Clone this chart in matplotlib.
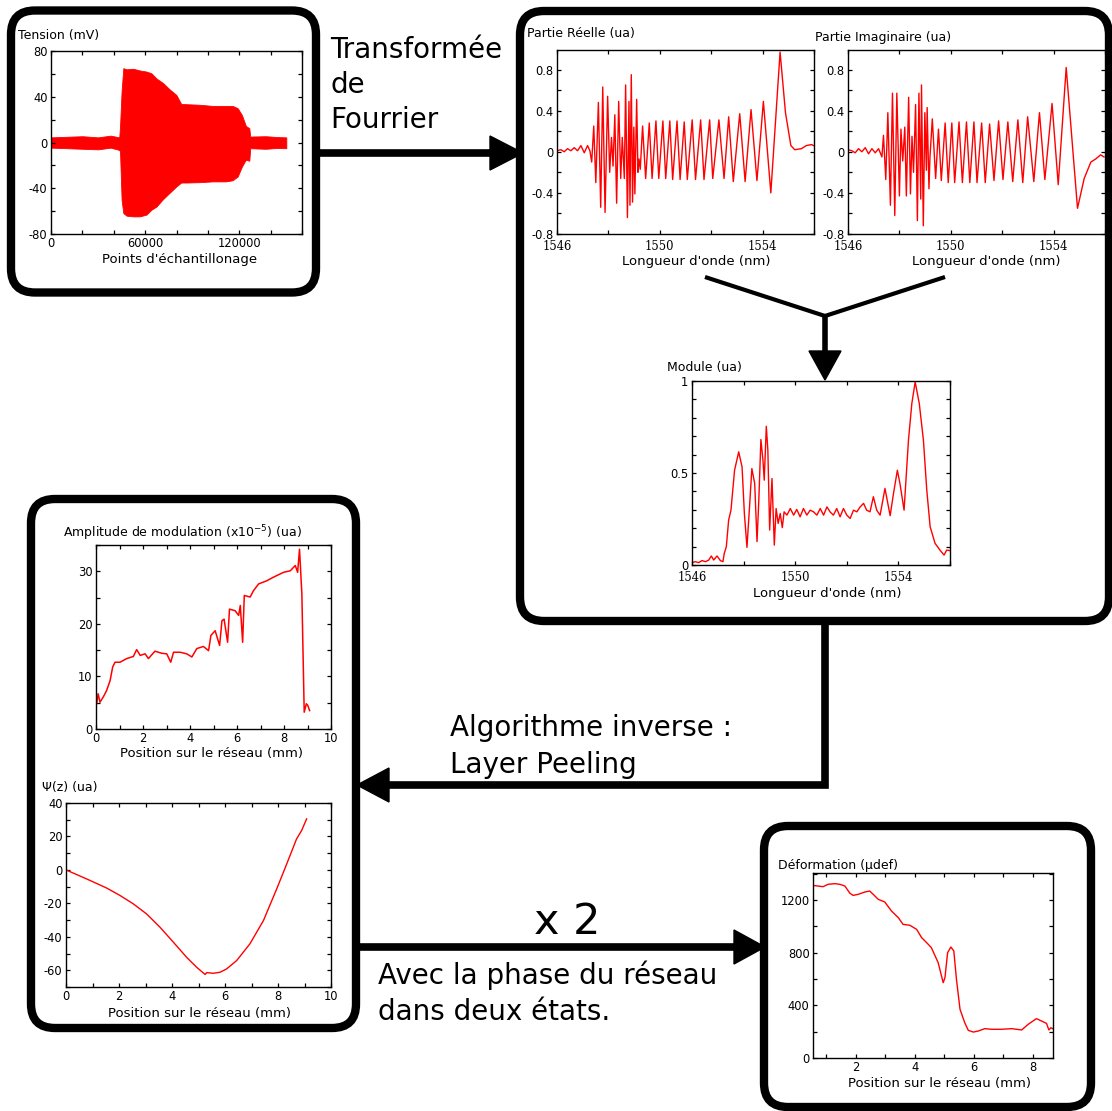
import matplotlib
matplotlib.use('Agg')
import matplotlib.pyplot as plt
from matplotlib.patches import FancyBboxPatch, Polygon
from matplotlib.ticker import MultipleLocator, FixedLocator, FuncFormatter

plt.rcParams['font.family'] = 'DejaVu Sans'
plt.rcParams['axes.unicode_minus'] = False

# --- Tension (mV) vs sample index : envelope of the recorded signal
tension_x = [0, 10000, 20000, 30000, 38000, 43500, 44000, 45000, 46100, 48200, 52400,
             56600, 60900, 64000, 67200, 71400, 75600, 79900, 83000, 86200, 94700,
             103100, 111600, 115800, 119000, 121700, 124200, 126400, 127000, 136900,
             144000, 150000]
tension_upper = [4.5, 5.0, 5.5, 4.5, 6.0, 4.5, 14, 45, 65, 64, 64.5,
                 63, 62, 60.5, 56, 52, 46.5, 41.6, 33.7, 33.5, 33,
                 32, 32, 32, 30, 24, 14.5, 12.5, 5.2, 5.5,
                 4.8, 4.5]
tension_lower = [-4.5, -5.0, -5.5, -6.0, -4.5, -6.5, -8, -50, -61.7, -64, -64.6,
                 -64.6, -63, -58.8, -56, -49.5, -44, -38.4, -35, -35, -34.7,
                 -34, -34, -33, -29.7, -21, -15, -16, -5, -5.5,
                 -4.8, -5]

# --- Partie reelle
reel_wl = [1546.00, 1546.15, 1546.28, 1546.41, 1546.54, 1546.67, 1546.80, 1546.93, 1547.06, 1547.19,
           1547.28, 1547.35, 1547.43, 1547.51, 1547.61, 1547.70, 1547.78, 1547.87, 1547.97, 1548.05,
           1548.12, 1548.18, 1548.25, 1548.32, 1548.40, 1548.48, 1548.54, 1548.62, 1548.67, 1548.74,
           1548.80, 1548.84, 1548.89, 1548.94, 1548.99, 1549.03, 1549.10, 1549.15, 1549.19, 1549.24,
           1549.33, 1549.45, 1549.59, 1549.70, 1549.85, 1549.96, 1550.12, 1550.23, 1550.39, 1550.50,
           1550.67, 1550.79, 1550.95, 1551.07, 1551.26, 1551.39, 1551.59, 1551.72, 1551.94, 1552.06,
           1552.30, 1552.50, 1552.68, 1552.86, 1553.11, 1553.32, 1553.55, 1553.78, 1554.03, 1554.32,
           1554.68, 1554.89, 1555.10, 1555.25, 1555.51, 1555.70, 1555.90, 1555.99]
reel_val = [0.01, 0.02, 0.00, 0.03, 0.01, 0.04, 0.01, 0.06, -0.01, 0.06,
            0.01, -0.10, 0.25, -0.30, 0.48, -0.54, 0.63, -0.59, 0.54, -0.20,
            0.14, -0.14, 0.36, -0.50, 0.49, -0.26, 0.14, -0.26, 0.65, -0.64,
            0.49, -0.52, 0.75, -0.49, 0.24, -0.41, 0.51, -0.20, -0.07, -0.17,
            0.25, -0.26, 0.28, -0.26, 0.30, -0.26, 0.30, -0.26, 0.30, -0.27,
            0.30, -0.27, 0.29, -0.27, 0.31, -0.27, 0.31, -0.27, 0.31, -0.26,
            0.31, -0.26, 0.34, -0.29, 0.37, -0.29, 0.41, -0.28, 0.49, -0.40,
            0.97, 0.38, 0.06, 0.02, 0.03, 0.06, 0.07, 0.06]

# --- Partie imaginaire
imag_wl = [1546.00, 1546.15, 1546.28, 1546.41, 1546.54, 1546.67, 1546.80, 1546.93, 1547.06, 1547.19,
           1547.32, 1547.38, 1547.47, 1547.55, 1547.65, 1547.73, 1547.82, 1547.90, 1548.00, 1548.06,
           1548.13, 1548.21, 1548.27, 1548.36, 1548.43, 1548.49, 1548.55, 1548.63, 1548.70, 1548.76,
           1548.83, 1548.86, 1548.93, 1548.99, 1549.05, 1549.08, 1549.15, 1549.19, 1549.28, 1549.41,
           1549.52, 1549.63, 1549.78, 1549.90, 1550.04, 1550.15, 1550.32, 1550.45, 1550.61, 1550.74,
           1550.90, 1551.02, 1551.20, 1551.34, 1551.51, 1551.68, 1551.86, 1552.03, 1552.22, 1552.41,
           1552.61, 1552.80, 1552.99, 1553.23, 1553.45, 1553.66, 1553.94, 1554.18, 1554.49, 1554.93,
           1555.19, 1555.45, 1555.64, 1555.83, 1555.96]
imag_val = [0.02, 0.01, -0.01, 0.03, 0.00, 0.04, -0.02, 0.03, -0.01, 0.03,
            -0.05, 0.16, -0.27, 0.38, -0.52, 0.57, -0.62, 0.57, -0.43, 0.22,
            -0.09, 0.24, -0.43, 0.53, -0.41, 0.15, -0.20, 0.46, -0.67, 0.57,
            -0.46, 0.65, -0.72, 0.38, -0.18, 0.43, -0.36, -0.05, 0.32, -0.26,
            0.22, -0.28, 0.28, -0.30, 0.28, -0.30, 0.29, -0.30, 0.29, -0.30,
            0.29, -0.30, 0.28, -0.30, 0.27, -0.28, 0.30, -0.27, 0.29, -0.29,
            0.31, -0.30, 0.34, -0.29, 0.38, -0.27, 0.47, -0.32, 0.82, -0.55,
            -0.26, -0.10, -0.07, -0.03, -0.05]

# --- Module
mod_wl = [1546.00, 1546.13, 1546.26, 1546.39, 1546.52, 1546.65, 1546.75, 1546.84, 1546.97, 1547.10,
          1547.20, 1547.25, 1547.33, 1547.42, 1547.51, 1547.65, 1547.81, 1547.94, 1548.03, 1548.13,
          1548.23, 1548.32, 1548.43, 1548.52, 1548.59, 1548.67, 1548.75, 1548.80, 1548.88, 1548.94,
          1549.01, 1549.10, 1549.19, 1549.26, 1549.34, 1549.42, 1549.50, 1549.57, 1549.68, 1549.81,
          1549.94, 1550.06, 1550.19, 1550.32, 1550.45, 1550.58, 1550.71, 1550.84, 1550.97, 1551.10,
          1551.23, 1551.35, 1551.48, 1551.61, 1551.74, 1551.87, 1552.00, 1552.13, 1552.26, 1552.39,
          1552.52, 1552.65, 1552.77, 1552.90, 1553.03, 1553.16, 1553.29, 1553.48, 1553.68, 1553.81,
          1553.96, 1554.06, 1554.22, 1554.39, 1554.52, 1554.65, 1554.81, 1554.97, 1555.10, 1555.23,
          1555.42, 1555.61, 1555.77, 1555.87, 1556.00]
mod_val = [0.013, 0.018, 0.013, 0.024, 0.018, 0.027, 0.049, 0.027, 0.049, 0.024,
           0.018, 0.063, 0.099, 0.244, 0.298, 0.515, 0.615, 0.533, 0.280, 0.096,
           0.316, 0.524, 0.443, 0.127, 0.353, 0.682, 0.570, 0.461, 0.754, 0.624,
           0.190, 0.470, 0.108, 0.307, 0.226, 0.280, 0.203, 0.289, 0.271, 0.307,
           0.271, 0.302, 0.262, 0.307, 0.271, 0.298, 0.289, 0.271, 0.307, 0.271,
           0.316, 0.289, 0.271, 0.307, 0.262, 0.307, 0.271, 0.253, 0.298, 0.289,
           0.316, 0.335, 0.298, 0.289, 0.371, 0.298, 0.271, 0.416, 0.268, 0.389,
           0.515, 0.443, 0.298, 0.678, 0.877, 0.995, 0.877, 0.678, 0.407, 0.208,
           0.118, 0.081, 0.054, 0.081, 0.078]

# --- Amplitude de modulation (x1e-5)
amp_z = [0.03, 0.09, 0.17, 0.31, 0.45, 0.60, 0.71, 0.81, 1.02, 1.31,
         1.59, 1.73, 1.88, 2.09, 2.23, 2.51, 2.80, 3.01, 3.18, 3.30,
         3.58, 3.86, 4.08, 4.29, 4.57, 4.79, 4.89, 5.07, 5.26, 5.36,
         5.45, 5.60, 5.68, 5.92, 6.07, 6.14, 6.24, 6.31, 6.56, 6.70,
         6.92, 7.27, 7.56, 7.98, 8.27, 8.48, 8.58, 8.66, 8.76, 8.86,
         8.95, 9.01, 9.09]
amp_val = [4.8, 6.7, 5.1, 6.1, 7.3, 9.2, 11.8, 12.7, 12.7, 13.4,
           13.8, 15.1, 14.0, 14.3, 13.4, 14.8, 14.4, 14.3, 12.7, 14.6,
           14.6, 14.3, 13.7, 15.3, 15.7, 14.9, 17.8, 18.7, 15.9, 20.6,
           20.9, 16.5, 22.8, 22.5, 21.6, 23.5, 16.5, 25.4, 25.1, 26.3,
           27.6, 28.2, 28.9, 29.8, 30.1, 31.1, 29.8, 34.2, 25.7, 3.2,
           4.8, 4.5, 3.5]

# --- Psi(z)
psi_z = [0.00, 0.78, 1.53, 2.04, 2.54, 3.04, 3.55, 4.05, 4.55, 4.93,
         5.25, 5.31, 5.56, 5.81, 6.06, 6.44, 6.94, 7.45, 7.95, 8.33,
         8.70, 8.89, 9.08]
psi_val = [0.0, -5.4, -10.8, -15.3, -20.3, -26.3, -34.3, -43.2, -52.2, -58.2,
           -62.5, -61.4, -61.8, -61.2, -59.2, -54.2, -44.2, -30.3, -11.4, 3.6,
           18.5, 23.5, 30.5]

# --- Deformation (microdef)
def_z = [0.55, 0.72, 0.89, 1.06, 1.29, 1.46, 1.63, 1.80, 1.91, 2.08,
         2.31, 2.47, 2.59, 2.76, 2.98, 3.21, 3.44, 3.60, 3.83, 4.06,
         4.23, 4.40, 4.56, 4.79, 4.96, 5.02, 5.11, 5.22, 5.32, 5.41,
         5.53, 5.69, 5.81, 5.98, 6.15, 6.37, 6.60, 6.94, 7.28, 7.62,
         7.84, 8.12, 8.29, 8.46, 8.54, 8.61, 8.67]
def_val = [1311, 1306, 1301, 1319, 1324, 1319, 1306, 1251, 1235, 1243,
           1261, 1268, 1243, 1205, 1185, 1116, 1066, 1015, 1008, 977,
           914, 876, 838, 724, 572, 610, 800, 843, 813, 597,
           370, 268, 210, 197, 205, 223, 218, 218, 223, 213,
           256, 299, 281, 263, 213, 230, 223]

wl_major = [1546, 1550, 1554]
wl_minor = [1548, 1552, 1556]

W, H = 1112, 1111
RED = '#ff0000'


def rect(l, t, r, b):
    return [l / W, 1 - b / H, (r - l) / W, (b - t) / H]


def txt(x, y, s, **kw):
    fig.text(x / W, 1 - y / H, s, **kw)


def style(ax, xmaj, xmin, ymaj, ymin, serif_x=False):
    if serif_x:
        ax.xaxis.set_major_locator(FixedLocator(xmaj))
        ax.xaxis.set_minor_locator(FixedLocator(xmin))
    else:
        ax.xaxis.set_major_locator(MultipleLocator(xmaj))
        ax.xaxis.set_minor_locator(MultipleLocator(xmin))
    ax.yaxis.set_major_locator(MultipleLocator(ymaj))
    ax.yaxis.set_minor_locator(MultipleLocator(ymin))
    fmt = FuncFormatter(lambda v, p: '%g' % round(v, 6))
    ax.xaxis.set_major_formatter(fmt)
    ax.yaxis.set_major_formatter(fmt)
    ax.tick_params(which='both', direction='in', top=True, right=True,
                   length=3.2, width=0.9, pad=2.5, labelsize=8.3)
    if serif_x:
        ax.tick_params(axis='x', labelfontfamily='DejaVu Serif', pad=4.5)
    for sp in ax.spines.values():
        sp.set_linewidth(1.0)


fig = plt.figure(figsize=(11.12, 11.11), dpi=100)

# background layer: boxes and arrows, in pixel units
bg = fig.add_axes([0, 0, 1, 1], zorder=0)
bg.set_xlim(0, W)
bg.set_ylim(H, 0)
bg.axis('off')

boxes = [(11, 10.5, 316, 292.5), (520, 11, 1109, 621),
         (31, 499, 356, 1028), (764, 826, 1091, 1107)]
for l, t, r, b in boxes:
    bg.add_patch(FancyBboxPatch((l, t), r - l, b - t,
                                boxstyle='round,pad=0,rounding_size=24',
                                fc='white', ec='black', lw=6))

lw_arrow = 5.5
# Fourier transform arrow
bg.plot([316, 495], [153, 153], color='black', lw=lw_arrow, solid_capstyle='butt')
bg.add_patch(Polygon([(490, 136), (523, 153), (490, 170)], closed=True, color='black'))
# real + imag -> module
bg.plot([705, 825], [277, 316], color='black', lw=3, solid_capstyle='butt')
bg.plot([945, 825], [277, 316], color='black', lw=3, solid_capstyle='butt')
bg.plot([825, 825], [315, 355], color='black', lw=4, solid_capstyle='butt')
bg.add_patch(Polygon([(809, 351), (825, 380), (841, 351)], closed=True, color='black'))
# layer peeling
bg.plot([825, 825, 385], [621, 785, 785], color='black', lw=lw_arrow,
        solid_joinstyle='miter', solid_capstyle='butt')
bg.add_patch(Polygon([(389, 768), (357, 785), (389, 802)], closed=True, color='black'))
# x 2
bg.plot([356, 740], [947, 947], color='black', lw=lw_arrow, solid_capstyle='butt')
bg.add_patch(Polygon([(734, 930), (765, 947), (734, 964)], closed=True, color='black'))

# --- Tension
ax = fig.add_axes(rect(51, 51, 302, 234), zorder=2)
ax.fill_between(tension_x, tension_lower, tension_upper, color=RED, lw=0.6)
ax.set_xlim(0, 160000)
ax.set_ylim(-80, 80)
style(ax, 60000, 20000, 40, 20)
txt(18, 36, 'Tension (mV)', fontsize=9, va='center')
txt(180, 260, "Points d'échantillonage", fontsize=9.5, va='center', ha='center')

# --- Partie reelle
ax = fig.add_axes(rect(557, 50, 814, 234), zorder=2)
ax.plot(reel_wl, reel_val, color=RED, lw=1.0)
ax.set_xlim(1546, 1556)
ax.set_ylim(-0.8, 0.99)
style(ax, wl_major, wl_minor, 0.4, 0.2, serif_x=True)
txt(527, 33, 'Partie Réelle (ua)', fontsize=9, va='center')
txt(696, 262, "Longueur d'onde (nm)", fontsize=9.5, va='center', ha='center')

# --- Partie imaginaire
ax = fig.add_axes(rect(848, 50, 1105, 234), zorder=2)
ax.plot(imag_wl, imag_val, color=RED, lw=1.0)
ax.set_xlim(1546, 1556)
ax.set_ylim(-0.8, 0.99)
style(ax, wl_major, wl_minor, 0.4, 0.2, serif_x=True)
txt(815, 37, 'Partie Imaginaire (ua)', fontsize=9, va='center')
txt(986, 262, "Longueur d'onde (nm)", fontsize=9.5, va='center', ha='center')

# --- Module
ax = fig.add_axes(rect(692, 381, 950, 565), zorder=2)
ax.plot(mod_wl, mod_val, color=RED, lw=1.0)
ax.set_xlim(1546, 1556)
ax.set_ylim(0, 1)
style(ax, wl_major, wl_minor, 0.5, 0.1, serif_x=True)
txt(667, 367, 'Module (ua)', fontsize=9, va='center')
txt(827, 593, "Longueur d'onde (nm)", fontsize=9.5, va='center', ha='center')

# --- Amplitude de modulation
ax = fig.add_axes(rect(96, 545, 331, 729), zorder=2)
ax.plot(amp_z, amp_val, color=RED, lw=1.1)
ax.set_xlim(0, 10)
ax.set_ylim(0, 35)
style(ax, 2, 1, 10, 5)
txt(63, 533, r'Amplitude de modulation (x10$^{-5}$) (ua)', fontsize=9, va='center')
txt(211, 754, 'Position sur le réseau (mm)', fontsize=9.5, va='center', ha='center')

# --- Psi(z)
ax = fig.add_axes(rect(66, 803, 331, 987), zorder=2)
ax.plot(psi_z, psi_val, color=RED, lw=1.0)
ax.set_xlim(0, 10)
ax.set_ylim(-70, 40)
style(ax, 2, 1, 20, 10)
txt(42, 787, 'Ψ(z) (ua)', fontsize=9, va='center')
txt(199, 1013, 'Position sur le réseau (mm)', fontsize=9.5, va='center', ha='center')

# --- Deformation
ax = fig.add_axes(rect(813, 873, 1053, 1058), zorder=2)
ax.plot(def_z, def_val, color=RED, lw=1.0)
ax.set_xlim(0.55, 8.68)
ax.set_ylim(0, 1405)
style(ax, 2, 1, 400, 200)
txt(778, 865, 'Déformation (µdef)', fontsize=9, va='center')
txt(940, 1084, 'Position sur le réseau (mm)', fontsize=9.5, va='center', ha='center')

# --- step annotations
txt(330, 50, 'Transformée', fontsize=20, va='center')
txt(330, 85, 'de', fontsize=20, va='center')
txt(330, 120, 'Fourrier', fontsize=20, va='center')
txt(450, 728, 'Algorithme inverse :', fontsize=20, va='center')
txt(450, 765, 'Layer Peeling', fontsize=20, va='center')
txt(567, 922, 'x 2', fontsize=31, va='center', ha='center')
txt(378, 975, 'Avec la phase du réseau', fontsize=20, va='center')
txt(378, 1012, 'dans deux états.', fontsize=20, va='center')

fig.savefig('out.png', dpi=100)
